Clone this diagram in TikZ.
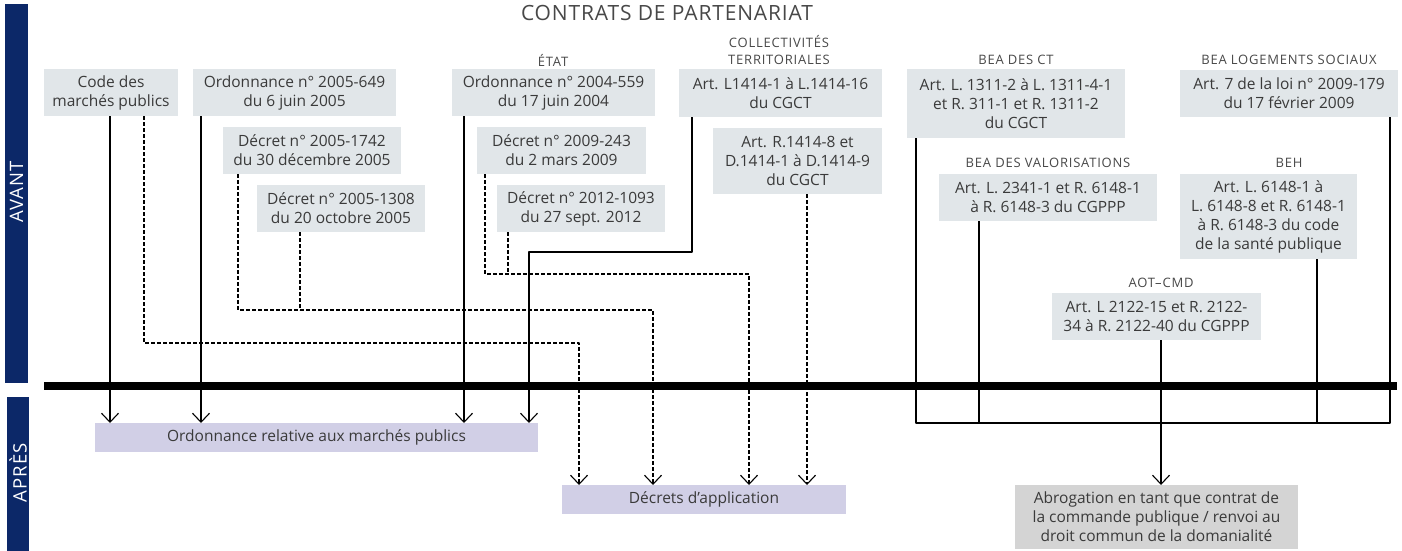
\documentclass[tikz,border=0pt]{standalone}
\usepackage{fontspec}
\setmainfont{Open Sans}
\newfontfamily\spacedfont[LetterSpace=6]{Open Sans}
\newfontfamily\titlefont[LetterSpace=4]{Open Sans}
\usetikzlibrary{arrows.meta}
\definecolor{navy}{RGB}{12,40,104}
\definecolor{boxgrey}{RGB}{225,230,233}
\definecolor{lilac}{RGB}{209,207,230}
\definecolor{abgrey}{RGB}{212,212,212}
\definecolor{txt}{RGB}{58,58,58}
\definecolor{lbl}{RGB}{72,72,72}
\begin{document}
\begin{tikzpicture}[x=1pt,y=-1pt,line join=round,
	box/.style={fill=boxgrey,text=txt,inner sep=0pt,outer sep=0pt,align=center,font=\fontsize{15.5}{19}\selectfont},
	wh/.style 2 args={minimum width=#1pt,minimum height=#2pt},
	newbox/.style={box,fill=lilac},
	head/.style={text=lbl,inner sep=0pt,align=center,font=\spacedfont\fontsize{13}{17}\selectfont},
	side/.style={text=white,rotate=90,inner sep=0pt,font=\spacedfont\fontsize{18.5}{20}\selectfont},
	link/.style={line width=1.1pt},
	dlink/.style={link,dash pattern=on 3.5pt off 2.5pt},
	tip/.style={-{Straight Barb[length=9pt,width=17pt]}}]
	\useasboundingbox (0,0) rectangle (1402,551);
	%==Bandeaux AVANT / APRES
	\fill[navy] (5,4) rectangle (28,383);
	\fill[navy] (7,397) rectangle (29,551);
	\node[side] (avant) at (16.5,192) {AVANT};
	\node[side] (apres) at (18,473) {APRÈS};
	%==Titres
	\node[text=lbl,inner sep=0pt,font=\titlefont\fontsize{21}{22}\selectfont] (titre) at (667,13) {CONTRATS DE PARTENARIAT};
	\node[head] (etat) at (553,60) {ÉTAT};
	\node[head] (coll) at (779,50) {COLLECTIVITÉS\\TERRITORIALES};
	\node[head] (hct) at (1016,60) {BEA DES CT};
	\node[head] (hlog) at (1289,60) {BEA LOGEMENTS SOCIAUX};
	\node[head] (hval) at (1048,163) {BEA DES VALORISATIONS};
	\node[head] (hbeh) at (1289,163) {BEH};
	\node[head] (haot) at (1161,283) {AOT–CMD};
	%==Textes avant
	\node[box,wh={134}{47}] (cmp) at (111,92.5) {Code des\\marchés publics};
	\node[box,wh={203}{47}] (ord05) at (294.5,92.5) {Ordonnance n° 2005-649\\du 6 juin 2005};
	\node[box,wh={178}{47}] (dec1742) at (312,150.5) {Décret n° 2005-1742\\du 30 décembre 2005};
	\node[box,wh={168}{47}] (dec1308) at (341,208.5) {Décret n° 2005-1308\\du 20 octobre 2005};
	\node[box,wh={203}{47}] (ord04) at (553.5,92.5) {Ordonnance n° 2004-559\\du 17 juin 2004};
	\node[box,wh={169}{47}] (dec243) at (561.5,150.5) {Décret n° 2009-243\\du 2 mars 2009};
	\node[box,wh={168}{47}] (dec1093) at (581,208.5) {Décret n° 2012-1093\\du 27 sept. 2012};
	\node[box,wh={203}{48}] (cgctL) at (780.5,93) {Art. L1414-1 à L.1414-16\\du CGCT};
	\node[box,wh={169}{66}] (cgctR) at (797.5,161) {Art. R.1414-8 et\\D.1414-1 à D.1414-9\\du CGCT};
	\node[box,wh={218}{69}] (bct) at (1016,103.5) {Art. L. 1311-2 à L. 1311-4-1\\et R. 311-1 et R. 1311-2\\du CGCT};
	\node[box,wh={218}{47}] (blog) at (1289,93.5) {Art. 7 de la loi n° 2009-179\\du 17 février 2009};
	\node[box,wh={218}{47}] (bval) at (1048,197.5) {Art. L. 2341-1 et R. 6148-1\\à R. 6148-3 du CGPPP};
	\node[box,wh={177}{85}] (beh) at (1268.5,216.5) {Art. L. 6148-1 à\\L. 6148-8 et R. 6148-1\\à R. 6148-3 du code\\de la santé publique};
	\node[box,wh={209}{47}] (aot) at (1156.5,316.5) {Art. L 2122-15 et R. 2122-\\34 à R. 2122-40 du CGPPP};
	%==Textes apres
	\node[newbox,wh={443}{29}] (ordrel) at (316.5,437.5) {Ordonnance relative aux marchés publics};
	\node[newbox,wh={284}{29}] (decapp) at (704,499.5) {Décrets d’application};
	\node[box,fill=abgrey,wh={283}{64}] (abrog) at (1156.5,517) {Abrogation en tant que contrat de\\la commande publique / renvoi au\\droit commun de la domanialité};
	%==Liaisons vers l'ordonnance
	\draw[link,tip] (110,0 |- cmp.south) -- (110,0 |- ordrel.north);
	\draw[link,tip] (201,0 |- ord05.south) -- (201,0 |- ordrel.north);
	\draw[link,tip] (464,0 |- ord04.south) -- (464,0 |- ordrel.north);
	\draw[link,tip] (692,0 |- cgctL.south) -- (692,252) -| (529,0 |- ordrel.north);
	%==Liaisons vers les decrets
	\coordinate (j1) at (300,310);
	\coordinate (j2) at (508,274);
	\draw[dlink,tip] (144,0 |- cmp.south) |- (579,343) -- (579,0 |- decapp.north);
	\draw[dlink,tip] (238,0 |- dec1742.south) |- (653,310) -- (653,0 |- decapp.north);
	\draw[dlink] (300,0 |- dec1308.south) -- (j1);
	\draw[dlink,tip] (485,0 |- dec243.south) |- (749,274) -- (749,0 |- decapp.north);
	\draw[dlink] (508,0 |- dec1093.south) -- (j2);
	\draw[dlink,tip] (807,0 |- cgctR.south) -- (807,0 |- decapp.north);
	%==Baux et AOT
	\draw[link] (916,0 |- bct.south) |- (1390,423) -- (1390,0 |- blog.south);
	\draw[link] (979,0 |- bval.south) -- (979,423);
	\draw[link] (1317,0 |- beh.south) -- (1317,423);
	\draw[link,tip] (1161,0 |- aot.south) -- (1161,0 |- abrog.north);
	%==Ligne de partage
	\draw[line width=7.5pt] (44,386) -- (1397,386);
\end{tikzpicture}
\end{document}
